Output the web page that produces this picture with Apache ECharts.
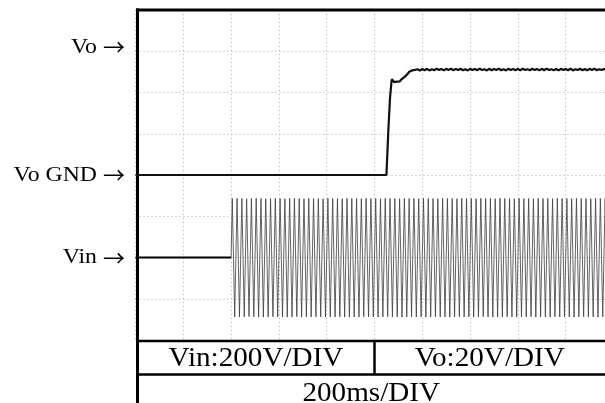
<!DOCTYPE html>
<html>
<head>
<meta charset="utf-8">
<script src="https://cdn.jsdelivr.net/npm/echarts@6/dist/echarts.min.js"></script>
<style>
  html, body { margin: 0; padding: 0; background: #fff; }
  #chart { width: 605px; height: 403px; }
</style>
</head>
<body>
<div id="chart"></div>
<script>
// Time base: 200 ms per division, 10 divisions
const timeRangeMs = [0, 2000];
const msPerDiv = 200;

// Channel scales (volts per division) and ground positions (division index from bottom)
const vinVoltsPerDiv = 200;
const vinGroundDiv = 2;
const voVoltsPerDiv = 20;
const voGroundDiv = 4;
const screenDivs = 8;

// Vo: output voltage step (ms, V)
const voStepTimes = [0, 1050, 1058, 1065, 1071, 1073, 1082, 1088, 1094, 1100, 1106, 1113, 1119, 1126, 1132, 1138, 1144, 1150, 1157, 1164, 1170];
const voStepVolts = [0, 0, 21.9, 37.5, 45.2, 46.5, 45.0, 45.6, 45.3, 45.9, 45.4, 46.4, 46.8, 47.6, 48.3, 48.9, 49.9, 50.3, 50.7, 50.6, 51.0];

// Vo: settled output with ripple, sampled every 10 ms from 1180 ms
const voRippleStartMs = 1180;
const voRippleStepMs = 10;
const voRippleVolts = [
  51.3, 50.6, 51.4, 50.8, 51.5, 50.7, 51.3, 50.8, 51.6, 50.9,
  51.4, 50.7, 51.5, 50.9, 51.6, 50.8, 51.4, 50.9, 51.5, 50.8,
  51.3, 50.7, 51.5, 50.9, 51.4, 50.8, 51.6, 50.9, 51.3, 50.7,
  51.5, 50.8, 51.4, 50.9, 51.6, 50.8, 51.3, 50.7, 51.5, 50.9,
  51.4, 50.8, 51.5, 50.7, 51.6, 50.9, 51.3, 50.8, 51.5, 50.9,
  51.4, 50.7, 51.5, 50.8, 51.6, 50.9, 51.3, 50.8, 51.4, 50.7,
  51.5, 50.9, 51.4, 50.8, 51.6, 50.7, 51.3, 50.9, 51.5, 50.8,
  51.4, 50.7, 51.5, 50.9, 51.6, 50.8, 51.3, 50.9, 51.4, 50.8,
  51.5, 50.7, 51.4
];

// Vin: zero before the mains is applied
const vinOffTimes = [0, 400];
const vinOffVolts = [0, 0];

// Vin: 50 Hz mains from 400 ms, one peak per half-cycle (V)
const vinOnMs = 400;
const vinHalfCycleMs = 10;
const vinPeaks = [
  286,-288, 287,-289, 286,-288, 285,-287, 286,-288, 287,-288, 286,-289, 285,-288, 286,-287, 287,-288,
  286,-288, 285,-289, 287,-288, 286,-287, 286,-289, 285,-288, 287,-288, 286,-287, 286,-288, 285,-289,
  287,-288, 286,-288, 286,-287, 285,-289, 287,-288, 286,-288, 286,-289, 285,-287, 287,-288, 286,-288,
  286,-289, 285,-288, 287,-287, 286,-288, 286,-288, 285,-289, 287,-288, 286,-287, 286,-288, 285,-288,
  287,-289, 286,-288, 286,-287, 285,-288, 287,-288, 286,-289, 286,-288, 285,-287, 287,-288, 286,-288,
  286,-289, 285,-288, 287,-287, 286,-288, 286,-289, 285,-288, 287,-288, 286,-287, 286,-288, 285,-289,
  287,-288, 286,-288, 286,-287, 285,-289, 287,-288, 286,-288, 286,-289, 285,-287, 287,-288, 286,-288,
  286,-288, 285,-289, 287,-288, 286,-287, 286,-288, 285,-288, 287,-289, 286,-288, 286,-287, 285,-288
];

// Channel markers on the left and scale settings underneath
const markerNames = ['Vo', 'Vo GND', 'Vin'];
const markerArrow = '→';
const markerLevelsVo = [62, 0];   // Vo-channel levels for the first two markers
const markerLevelVin = 0;        // Vin-channel level for the third marker
const scaleTexts = ['Vin:200V/DIV', 'Vo:20V/DIV', '200ms/DIV'];

// ---- build series data ----
const voData = voStepTimes.map((t, i) => [t, voStepVolts[i]]);
voRippleVolts.forEach((v, i) => voData.push([voRippleStartMs + i * voRippleStepMs, v]));

const vinOffData = vinOffTimes.map((t, i) => [t, vinOffVolts[i]]);
const vinOnData = [[vinOnMs, 0]];
vinPeaks.forEach((v, i) => vinOnData.push([vinOnMs + vinHalfCycleMs / 2 + i * vinHalfCycleMs, v]));

const chart = echarts.init(document.getElementById('chart'), null, { renderer: 'canvas' });

const gridLeft = 135.5, gridTop = 10, divW = 47.8, gridH = 330;
const serif = '"Liberation Serif", "Times New Roman", serif';
const dotted = { color: '#b0b0b0', width: 1, type: [1, 3] };

chart.setOption({
  animation: false,
  backgroundColor: '#fff',
  grid: { left: gridLeft, top: gridTop, width: divW * 10, height: gridH, containLabel: false, outerBoundsMode: 'none' },
  xAxis: {
    type: 'value', position: 'top',
    min: timeRangeMs[0], max: timeRangeMs[1], interval: msPerDiv,
    axisLine: { show: false }, axisTick: { show: false }, axisLabel: { show: false },
    splitLine: { show: true, lineStyle: dotted }
  },
  yAxis: [
    {
      type: 'value', position: 'left',
      min: -vinGroundDiv * vinVoltsPerDiv,
      max: (screenDivs - vinGroundDiv) * vinVoltsPerDiv,
      interval: vinVoltsPerDiv,
      axisLine: { show: false }, axisTick: { show: false }, axisLabel: { show: false },
      splitLine: { show: true, lineStyle: dotted }
    },
    {
      type: 'value', position: 'left',
      min: -voGroundDiv * voVoltsPerDiv,
      max: (screenDivs - voGroundDiv) * voVoltsPerDiv,
      interval: voVoltsPerDiv,
      axisLine: { show: false }, axisTick: { show: false }, axisLabel: { show: false },
      splitLine: { show: false }
    }
  ],
  series: [
    {
      name: 'Vin', type: 'line', yAxisIndex: 0, data: vinOnData,
      showSymbol: false, symbol: 'none', silent: true,
      lineStyle: { color: '#3c3c3c', width: 0.8 }, z: 3
    },
    {
      name: 'Vin off', type: 'line', yAxisIndex: 0, data: vinOffData,
      showSymbol: false, symbol: 'none', silent: true,
      lineStyle: { color: '#000', width: 2 }, z: 4
    },
    {
      name: 'Vo', type: 'line', yAxisIndex: 1, data: voData,
      showSymbol: false, symbol: 'none', silent: true,
      lineStyle: { color: '#111', width: 2.2 }, z: 5
    }
  ]
});

// Channel markers, screen frame and the scale table
const yVo = markerLevelsVo.map(v => chart.convertToPixel({ yAxisIndex: 1 }, v));
const yVin = chart.convertToPixel({ yAxisIndex: 0 }, markerLevelVin);
const xMid = chart.convertToPixel({ xAxisIndex: 0 }, 1000);
const markerYs = [yVo[0], yVo[1], yVin];
const frameX = 137.5, frameTop = 10;
const tableTop = 341, tableMid = 374.5, pageW = 605, pageH = 403;
const stretch = 1.08;

const g = [];
markerNames.forEach((t, i) => {
  g.push({
    type: 'text', x: 97, y: markerYs[i], scaleX: stretch,
    style: { text: t, font: '22px ' + serif, fill: '#000', align: 'right', verticalAlign: 'middle' }
  });
  g.push({
    type: 'text', x: 114, y: markerYs[i],
    style: { text: markerArrow, font: '22px "Noto Sans CJK SC", sans-serif', fill: '#000', align: 'center', verticalAlign: 'middle' }
  });
});
const black = { stroke: '#000', lineWidth: 2.5 };
g.push({ type: 'line', shape: { x1: frameX, y1: frameTop - 1.5, x2: frameX, y2: pageH }, style: { stroke: '#000', lineWidth: 3 } });
g.push({ type: 'line', shape: { x1: frameX - 1.5, y1: frameTop, x2: pageW, y2: frameTop }, style: { stroke: '#000', lineWidth: 3 } });
g.push({ type: 'line', shape: { x1: frameX, y1: tableTop, x2: pageW, y2: tableTop }, style: black });
g.push({ type: 'line', shape: { x1: frameX, y1: tableMid, x2: pageW, y2: tableMid }, style: black });
g.push({ type: 'line', shape: { x1: xMid, y1: tableTop, x2: xMid, y2: tableMid }, style: black });
const cells = [
  { x: (frameX + xMid) / 2, y: 359 },
  { x: (xMid + pageW) / 2, y: 359 },
  { x: (frameX + pageW) / 2, y: 394 }
];
scaleTexts.forEach((t, i) => g.push({
  type: 'text', x: cells[i].x, y: cells[i].y, scaleX: stretch,
  style: { text: t, font: '27px ' + serif, fill: '#000', align: 'center', verticalAlign: 'middle' }
}));
chart.setOption({ graphic: g });
</script>
</body>
</html>
